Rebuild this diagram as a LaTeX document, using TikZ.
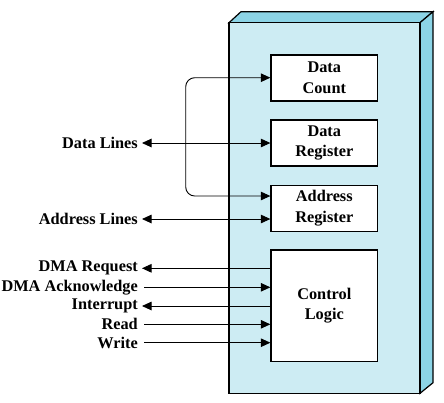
\documentclass[tikz,border=0pt]{standalone}
\usepackage{fontspec}
\setmainfont{Liberation Serif}
\usetikzlibrary{arrows.meta}
\usetikzlibrary{positioning}
\definecolor{facefront}{RGB}{205,236,243}
\definecolor{faceside}{RGB}{140,212,230}

\begin{document}
\begin{tikzpicture}[x=1pt,y=-1pt,font=\fontsize{16.3}{20.5}\selectfont\bfseries]
\tikzstyle{reg}=[rectangle,draw,fill=white,line width=1.2pt,minimum width=106.7pt,minimum height=46pt,align=center,inner sep=0pt]
\tikzstyle{sig}=[anchor=east,inner sep=0pt]
\tikzstyle{wire}=[line width=0.9pt,-{Triangle[length=9.5pt,width=8.5pt]}]
\tikzstyle{wire2}=[line width=0.9pt,{Triangle[length=9.5pt,width=8.5pt]}-{Triangle[length=9.5pt,width=8.5pt]}]
\useasboundingbox (0,0) rectangle (444,402);
% the DMA module
\draw[line width=1.2pt,fill=faceside] (229,22.7) -- (241,11.7) -- (433,11.7) -- (420,22.7) -- cycle;
\draw[line width=1.2pt,fill=faceside] (420,22.7) -- (433,11.7) -- (433,382.7) -- (420,393.3) -- cycle;
\draw[line width=1.2pt,fill=facefront] (229,22.7) rectangle (420,393.3);
\node[reg] (count) at (324.3,78) {Data\\Count};
\node[reg] (dreg) at (324.3,143) {Data\\Register};
\node[reg] (areg) at (324.3,208.3) {Address\\Register};
\node[reg,minimum height=111.7pt] (ctrl) at (324.3,305.8) {Control\\Logic};
% outside lines
\node[sig] (dlines) at (138,143) {Data Lines};
\node[sig] (alines) at (138,219) {Address Lines};
\node[sig] (req) at (138,268.3) {DMA Request};
\node[sig] (ack) at (138,287.3) {DMA Acknowledge};
\node[sig] (intr) at (138,306) {Interrupt};
\node[sig] (rd) at (138,324.3) {Read};
\node[sig] (wr) at (138,342.7) {Write};
\draw[wire2] ([xshift=4pt]dlines.east) -- (dreg.west);
\draw[wire2] ([xshift=4pt]alines.east) -- (alines.east -| areg.west);
\draw[wire2,rounded corners=9pt] (count.west |- 0,77.7) -- (185.7,77.7) -- (185.7,196) -- (areg.west |- 0,196);
\draw[wire] (req.east -| ctrl.west) -- ([xshift=4pt]req.east);
\draw[wire] ([xshift=6pt]ack.east) -- (ack.east -| ctrl.west);
\draw[wire] (intr.east -| ctrl.west) -- ([xshift=4pt]intr.east);
\draw[wire] ([xshift=6pt]rd.east) -- (rd.east -| ctrl.west);
\draw[wire] ([xshift=6pt]wr.east) -- (wr.east -| ctrl.west);
\end{tikzpicture}
\end{document}
